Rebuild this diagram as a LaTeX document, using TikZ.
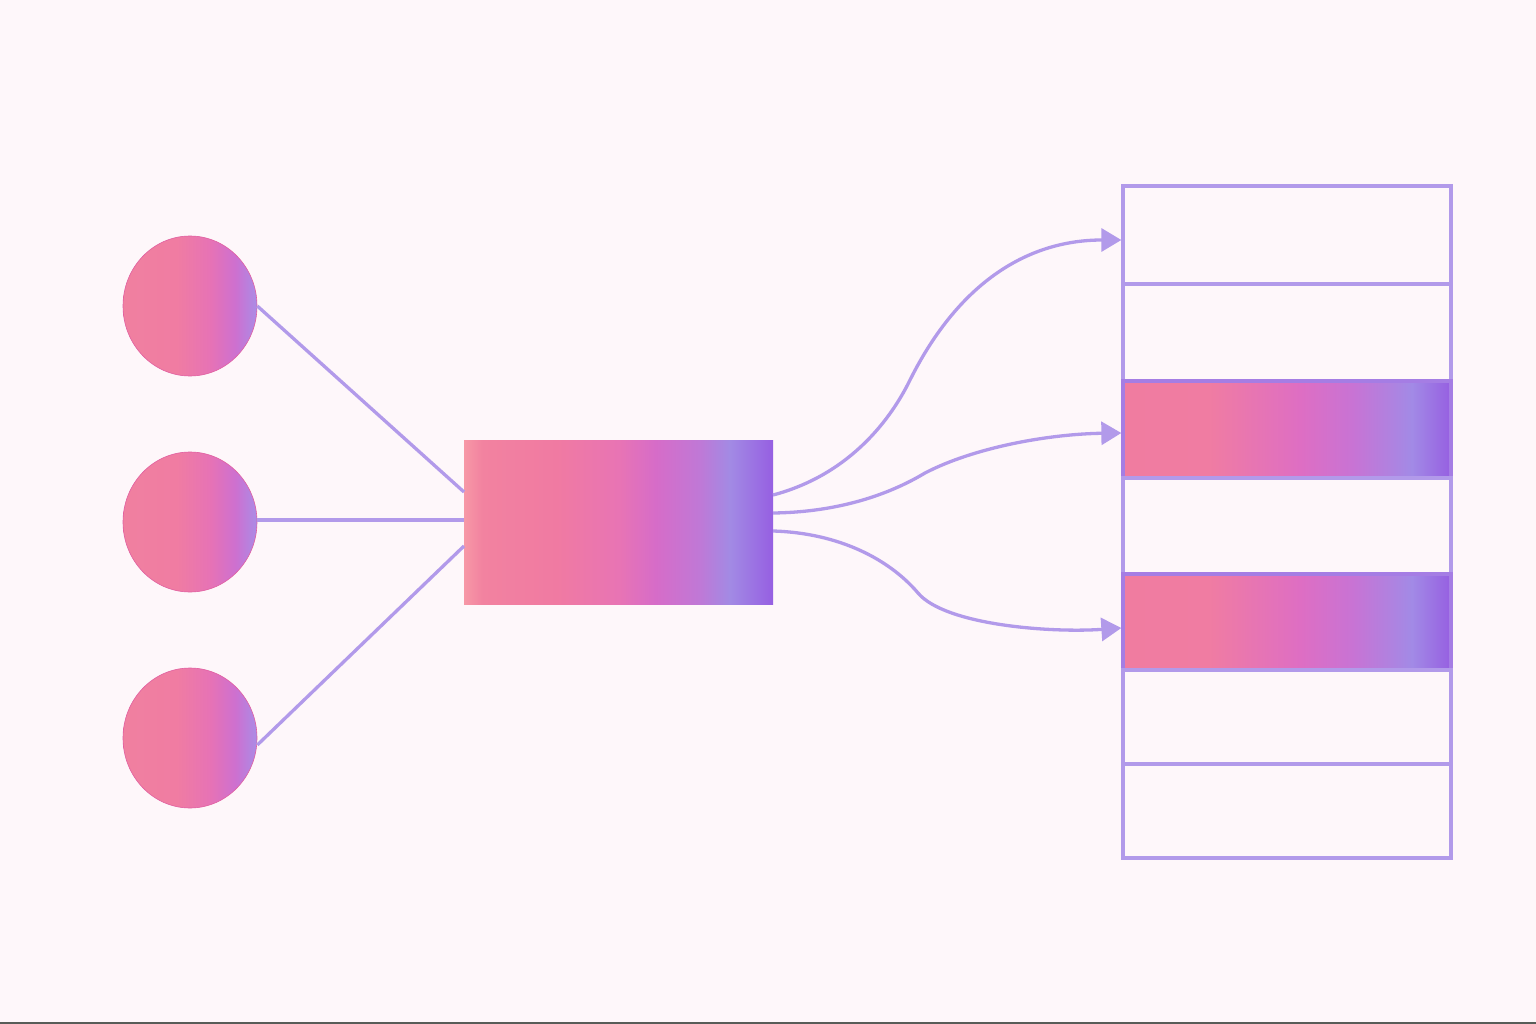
\documentclass[tikz,border=0pt]{standalone}
\usetikzlibrary{arrows.meta,shapes.geometric}
\definecolor{bg}{RGB}{254,247,250}
\definecolor{linecol}{RGB}{178,154,234}
\definecolor{barline}{RGB}{165,125,228}
\definecolor{circline}{RGB}{225,95,160}
\definecolor{strip}{RGB}{88,92,88}
\pgfdeclarehorizontalshading{circgrad}{100bp}{
 color(0bp)=(rgb,255:red,240;green,128;blue,160);
 color(25bp)=(rgb,255:red,240;green,128;blue,160);
 color(45bp)=(rgb,255:red,240;green,124;blue,162);
 color(58bp)=(rgb,255:red,230;green,114;blue,182);
 color(67bp)=(rgb,255:red,205;green,112;blue,208);
 color(75bp)=(rgb,255:red,170;green,140;blue,230);
 color(100bp)=(rgb,255:red,170;green,140;blue,230)}
\pgfdeclarehorizontalshading{boxgrad}{100bp}{
 color(0bp)=(rgb,255:red,247;green,152;blue,166);
 color(25bp)=(rgb,255:red,247;green,152;blue,166);
 color(28bp)=(rgb,255:red,242;green,130;blue,160);
 color(40bp)=(rgb,255:red,240;green,122;blue,162);
 color(50bp)=(rgb,255:red,232;green,116;blue,180);
 color(56bp)=(rgb,255:red,214;green,108;blue,200);
 color(63bp)=(rgb,255:red,192;green,120;blue,214);
 color(68bp)=(rgb,255:red,162;green,138;blue,228);
 color(75bp)=(rgb,255:red,150;green,95;blue,226);
 color(100bp)=(rgb,255:red,150;green,95;blue,226)}
\pgfdeclarehorizontalshading{bargrad}{100bp}{
 color(0bp)=(rgb,255:red,240;green,124;blue,160);
 color(25bp)=(rgb,255:red,240;green,124;blue,160);
 color(38bp)=(rgb,255:red,240;green,124;blue,162);
 color(52bp)=(rgb,255:red,222;green,110;blue,195);
 color(60bp)=(rgb,255:red,200;green,115;blue,212);
 color(69bp)=(rgb,255:red,162;green,138;blue,230);
 color(75bp)=(rgb,255:red,150;green,95;blue,225);
 color(100bp)=(rgb,255:red,150;green,95;blue,225)}
\tikzset{
 src/.style={ellipse, minimum width=134pt, minimum height=140pt, inner sep=0pt,
   shading=circgrad, draw=circline, line width=0.6pt},
 hub/.style={rectangle, minimum width=309pt, minimum height=164pt, inner sep=0pt,
   shading=boxgrad},
 row/.style={rectangle, minimum width=328pt, inner sep=0pt, draw=linecol, line width=3.3pt},
 hot/.style={shading=bargrad, draw=barline},
 wire/.style={draw=linecol, line width=3.3pt},
 flow/.style={draw=linecol, line width=3.3pt, -{Triangle[length=20pt,width=23pt]}}
}
\begin{document}
\begin{tikzpicture}[x=1pt,y=-1pt]
\fill[bg] (0,0) rectangle (1536,1024);
\useasboundingbox (0,0) rectangle (1536,1024);
\fill[strip] (0,1021.5) rectangle (1536,1024);
% sources
\node[src] (c1) at (190,306) {};
\node[src] (c2) at (190,522) {};
\node[src] (c3) at (190,738) {};
% hub
\node[hub] (hub) at (618.5,522) {};
\coordinate (h1) at (464,492);
\coordinate (h2) at (464,520);
\coordinate (h3) at (464,546);
\coordinate (o1) at (773,495);
\coordinate (o2) at (773,513);
\coordinate (o3) at (773,531);
% table
\node[row, minimum height=98pt] (r1) at (1287,235) {};
\node[row, minimum height=97pt] (r2) at (1287,332.5) {};
\node[row, hot, minimum height=97pt] (r3) at (1287,429.5) {};
\node[row, minimum height=96pt] (r4) at (1287,526) {};
\node[row, hot, minimum height=96pt] (r5) at (1287,622) {};
\node[row, minimum height=94pt] (r6) at (1287,717) {};
\node[row, minimum height=94pt] (r7) at (1287,811) {};
% left wires
\draw[wire] (c1.east) -- (h1);
\draw[wire] (c2.east |- h2) -- (h2);
\draw[wire] (c3.east |- 0,745) -- (h3);
% right flows
\draw[flow] (o1) .. controls (845,476) and (888,425) .. (910,380)
  .. controls (960,280) and (1030,240) .. ([yshift=-5pt]r1.west);
\draw[flow] (o2) .. controls (850,512) and (900,488) .. (925,473)
  .. controls (975,447) and (1050,434) .. ([yshift=-3.5pt]r3.west);
\draw[flow] (o3) .. controls (840,533) and (890,560) .. (918,593)
  .. controls (945,625) and (1050,633) .. ([yshift=-6pt]r5.west);
\end{tikzpicture}
\end{document}
